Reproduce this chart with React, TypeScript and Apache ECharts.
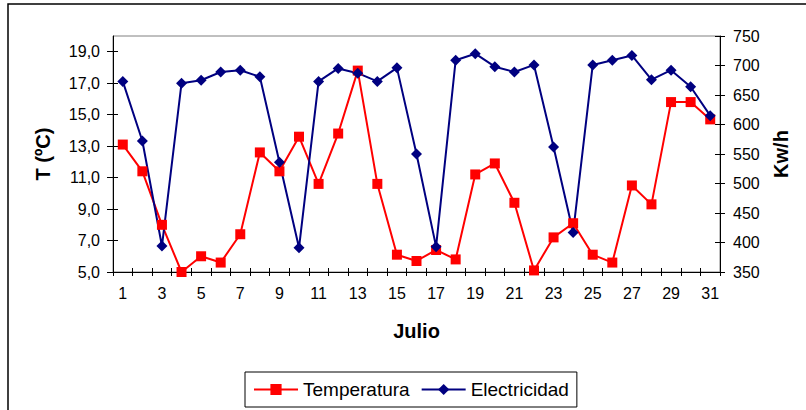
import React, { useEffect, useRef } from "react";
import * as echarts from "echarts";

const days = ["1","2","3","4","5","6","7","8","9","10","11","12","13","14","15","16","17","18","19","20","21","22","23","24","25","26","27","28","29","30","31"];
const temperatura = [13.1, 11.4, 8.0, 5.0, 6.0, 5.6, 7.4, 12.6, 11.4, 13.6, 10.6, 13.8, 17.8, 10.6, 6.1, 5.7, 6.4, 5.8, 11.2, 11.9, 9.4, 5.1, 7.2, 8.1, 6.1, 5.6, 10.5, 9.3, 15.8, 15.8, 14.7];
const electricidad = [673, 572, 394, 670, 675, 689, 692, 681, 536, 391, 673, 695, 687, 673, 696, 550, 393, 709, 720, 698, 689, 701, 562, 417, 701, 709, 717, 676, 692, 664, 615];
const leftTicks = [5, 7, 9, 11, 13, 15, 17, 19];

const FONT = "Liberation Sans";

export default function App() {
  const ref = useRef<HTMLDivElement>(null);
  useEffect(() => {
    if (!ref.current) return;
    const chart = echarts.init(ref.current, null, { renderer: "svg" });
    const leftBase = {
      type: "value",
      min: 5,
      max: 20,
      interval: 2,
      splitLine: { show: false },
    };
    const rightBase = {
      type: "value",
      min: 350,
      max: 750,
      interval: 50,
      splitLine: { show: false },
    };
    chart.setOption({
      animation: false,
      backgroundColor: "#ffffff",
      textStyle: { fontFamily: FONT },
      graphic: [
        {
          type: "rect",
          shape: { x: 8, y: 4, width: 900, height: 500 },
          style: { fill: "none", stroke: "#000", lineWidth: 1.5 },
          silent: true,
        },
      ],
      grid: {
        left: 113,
        right: 86,
        top: 36,
        bottom: 138,
        show: true,
        borderColor: "#808080",
        borderWidth: 1,
        backgroundColor: "#fff",
        outerBoundsMode: "none",
      },
      legend: {
        left: 245,
        top: 372,
        padding: [8, 8, 8, 8],
        borderColor: "#000",
        borderWidth: 1,
        itemGap: 11,
        itemWidth: 44,
        itemHeight: 14,
        textStyle: { fontFamily: FONT, fontSize: 19, color: "#000" },
        data: ["Temperatura", "Electricidad"],
      },
      xAxis: [
        {
          type: "category",
          data: days,
          boundaryGap: true,
          position: "bottom",
          name: "Julio",
          nameLocation: "middle",
          nameGap: 49,
          nameTextStyle: { fontFamily: FONT, fontSize: 20, fontWeight: "bold", color: "#000" },
          axisLine: { lineStyle: { color: "#000", width: 1 } },
          axisTick: { show: true, interval: 0, length: 4, lineStyle: { color: "#000" } },
          axisLabel: { interval: 1, margin: 13, fontSize: 16, color: "#000", fontFamily: FONT },
        },
        {
          type: "category",
          data: days,
          boundaryGap: true,
          position: "bottom",
          axisLine: { show: false },
          axisTick: { show: true, inside: true, interval: 0, length: 4, lineStyle: { color: "#000" } },
          axisLabel: { show: false },
        },
      ],
      yAxis: [
        {
          ...leftBase,
          position: "left",
          name: "T (ºC)",
          nameLocation: "middle",
          nameRotate: 90,
          nameGap: 60,
          nameTextStyle: { fontFamily: FONT, fontSize: 20, fontWeight: "bold", color: "#000" },
          axisLine: { show: true, lineStyle: { color: "#000", width: 1 } },
          axisTick: { show: true, length: 6, customValues: leftTicks, lineStyle: { color: "#000" } },
          axisLabel: {
            customValues: leftTicks,
            margin: 13,
            fontSize: 16,
            color: "#000",
            fontFamily: FONT,
            formatter: (v: number) => v.toFixed(1).replace(".", ","),
          },
        },
        {
          ...rightBase,
          position: "right",
          name: "Kw/h",
          nameLocation: "middle",
          nameRotate: 90,
          nameGap: 51,
          nameTextStyle: { fontFamily: FONT, fontSize: 20, fontWeight: "bold", color: "#000" },
          axisLine: { show: true, lineStyle: { color: "#000", width: 1 } },
          axisTick: { show: true, length: 5, lineStyle: { color: "#000" } },
          axisLabel: { margin: 13, fontSize: 16, color: "#000", fontFamily: FONT },
        },
        {
          ...leftBase,
          position: "left",
          axisLine: { show: false },
          axisTick: { show: true, inside: true, length: 5, customValues: leftTicks, lineStyle: { color: "#000" } },
          axisLabel: { show: false },
        },
        {
          ...rightBase,
          position: "right",
          axisLine: { show: false },
          axisTick: { show: true, inside: true, length: 5, lineStyle: { color: "#000" } },
          axisLabel: { show: false },
        },
      ],
      series: [
        {
          name: "Temperatura",
          type: "line",
          xAxisIndex: 0,
          yAxisIndex: 0,
          data: temperatura,
          symbol: "rect",
          symbolSize: 10,
          color: "#ff0000",
          itemStyle: { color: "#ff0000" },
          lineStyle: { color: "#ff0000", width: 2 },
        },
        {
          name: "Electricidad",
          type: "line",
          xAxisIndex: 0,
          yAxisIndex: 1,
          data: electricidad,
          symbol: "diamond",
          symbolSize: 11,
          color: "#000080",
          itemStyle: { color: "#000080" },
          lineStyle: { color: "#000080", width: 2 },
        },
      ],
    });
    return () => chart.dispose();
  }, []);
  return (
    <div
      ref={ref}
      style={{ position: "fixed", left: 0, top: 0, width: 806, height: 410 }}
    />
  );
}
